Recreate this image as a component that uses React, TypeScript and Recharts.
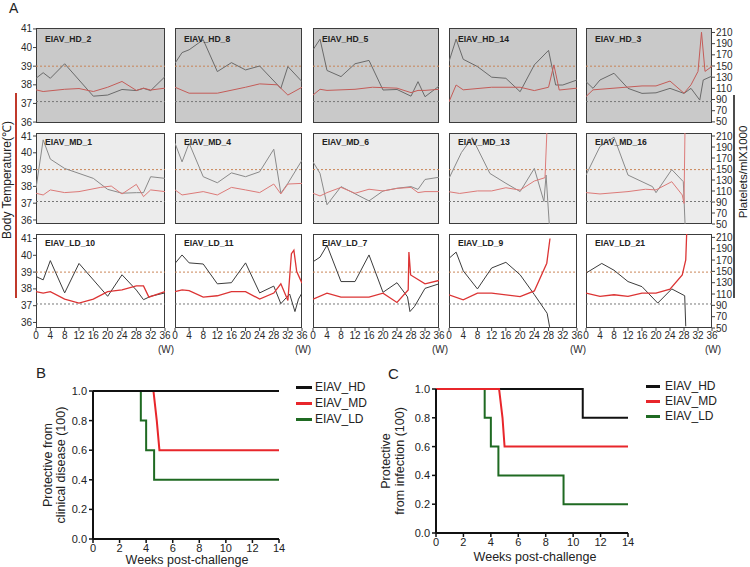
import React from 'react';
import { LineChart, Line, XAxis, YAxis, ReferenceLine, Legend } from 'recharts';

type Pt = [number, number];

// ---------- Panel A data: [week, temperature °C] and [week, platelets x1000/ml] ----------
const HD_2_TEMP: Pt[] = [[0,37.73],[2,37.64],[8,37.76],[12,37.8],[16,37.64],[20,37.87],[24,38.18],[28,37.7],[30,37.82],[32,37.72],[36,37.82]];
const HD_2_PLT: Pt[] = [[0,128],[2,138],[4,128],[8,154],[16,96],[20,98],[24,108],[28,106],[30,110],[32,106],[36,131]];
const HD_8_TEMP: Pt[] = [[0,37.87],[4,37.55],[12,37.55],[20,37.87],[24,38.05],[29,38.0],[32,37.45],[36,37.87]];
const HD_8_PLT: Pt[] = [[0,155],[2,174],[4,179],[8,197],[12,140],[16,156],[20,143],[24,150],[30,110],[32,149],[36,122]];
const HD_5_TEMP: Pt[] = [[0,37.45],[2,37.76],[4,37.7],[12,37.76],[17,37.87],[24,37.82],[28,37.58],[30,37.7],[32,37.7],[36,37.76]];
const HD_5_PLT: Pt[] = [[0,179],[2,198],[4,142],[8,131],[12,154],[16,160],[20,107],[24,108],[28,96],[30,122],[32,95],[36,114]];
const HD_14_TEMP: Pt[] = [[0,37.09],[2,37.99],[4,37.73],[12,37.87],[20,37.87],[24,37.69],[28,37.87],[29.5,39.07],[31,37.72],[36,37.82]];
const HD_14_PLT: Pt[] = [[0,158],[2,198],[4,162],[8,149],[12,130],[16,128],[20,104],[24,152],[28,178],[30,116],[32,116],[36,125]];
const HD_3_TEMP: Pt[] = [[0,37.37],[2,37.73],[8,37.82],[16,37.94],[20,37.94],[24,38.2],[28,37.55],[30,38.0],[32,38.72],[33,40.82],[34,38.72],[36,38.99]];
const HD_3_PLT: Pt[] = [[0,122],[2,110],[4,125],[8,137],[12,110],[16,101],[20,102],[24,110],[28,101],[30,110],[32.5,89],[33.5,125],[36,132]];

const MD_1_TEMP: Pt[] = [[0,37.59],[2,37.49],[4,37.79],[8,37.63],[12,37.69],[18,37.94],[21,38.02],[24,37.55],[28,38.12],[30,37.39],[32,37.79],[36,37.69]];
const MD_1_PLT: Pt[] = [[0,115],[2,203],[4,168],[8,151],[16,133],[20,113],[24,106],[28,107],[30,107],[32,136],[36,133]];
const MD_4_TEMP: Pt[] = [[0,37.79],[2,37.49],[8,37.69],[12,37.49],[16,37.94],[20,37.79],[24,37.63],[28,38.14],[30,37.55],[32,38.14],[36,38.18]];
const MD_4_PLT: Pt[] = [[0,197],[2,163],[4,197],[8,136],[12,125],[16,143],[20,136],[24,145],[28,186],[30,106],[32,124],[36,166]];
const MD_6_TEMP: Pt[] = [[0,37.59],[2,37.43],[4,37.63],[8,37.94],[12,37.59],[16,37.83],[20,37.73],[24,37.88],[28,37.94],[30,37.63],[32,37.69],[36,37.69]];
const MD_6_PLT: Pt[] = [[0,163],[2,142],[4,85],[8,118],[16,92],[20,110],[24,115],[28,118],[30,113],[32,131],[36,135]];
const MD_13_TEMP: Pt[] = [[0,37.68],[3,37.58],[8,37.73],[12,37.73],[16,37.92],[20,37.78],[24,38.32],[27,38.52],[27.6,41.6]];
const MD_13_PLT: Pt[] = [[0,133],[3.5,180],[6.5,207],[11.5,142],[16,124],[20,109],[24,151],[26.7,91],[27.3,139],[28.2,50]];
const MD_16_TEMP: Pt[] = [[0,37.63],[4,37.55],[12,37.69],[17,37.83],[20,37.79],[24.5,38.28],[27.5,37.49],[28,36.99],[28.3,41.6]];
const MD_16_PLT: Pt[] = [[0,139],[4,191],[8,208],[12,139],[19,118],[20,107],[24.5,149],[27.8,127],[28.3,50]];

const LD_10_TEMP: Pt[] = [[0,37.84],[2,37.75],[4,37.84],[8,37.39],[12,37.15],[16,37.39],[20,37.84],[24,37.94],[28,38.18],[30,38.18],[31.5,37.51],[36,37.84]];
const LD_10_PLT: Pt[] = [[0,141],[2,135],[4,169],[8,112],[12,164],[20,106],[24,144],[28,117],[30,100],[32,106],[36,112]];
const LD_11_TEMP: Pt[] = [[0,37.84],[2,37.94],[4,37.9],[8,37.51],[12,37.59],[16,37.84],[20,37.84],[24,37.39],[28,37.75],[30,38.3],[32,37.31],[33,40.1],[33.7,40.3],[34.5,39.03],[36,38.34]];
const LD_11_PLT: Pt[] = [[0,164],[2,179],[4,165],[8,163],[12,128],[16,130],[20,165],[24,112],[28,124],[30,93],[32.5,110],[34,79],[35,101],[36,112]];
const LD_7_TEMP: Pt[] = [[0,37.39],[4,37.75],[8,37.51],[16,37.51],[20,37.75],[24,37.19],[27.2,37.94],[27.4,40.2],[27.9,38.83],[32,38.3],[36,38.5]];
const LD_7_PLT: Pt[] = [[0,167],[2,175],[4,196],[8,132],[12,132],[16,179],[20,113],[24,130],[27,105],[27.7,79],[29,88],[32,120],[36,128]];
const LD_9_TEMP: Pt[] = [[0,37.64],[4,37.35],[8,37.75],[12,37.75],[20,37.54],[24,37.88],[27.5,39.53],[28.4,41.0]];
const LD_9_PLT: Pt[] = [[0,173],[2,184],[4,151],[8,119],[12,156],[16,166],[20,144],[24,109],[27.6,76],[28.3,52]];
const LD_21_TEMP: Pt[] = [[0,37.75],[4,37.55],[8,37.65],[12,37.55],[16,37.75],[20,37.75],[24,37.99],[27.5,38.83],[28.5,39.72],[28.8,41.5]];
const LD_21_PLT: Pt[] = [[0,147],[4.5,164],[8,152],[12,132],[16,123],[20.5,94],[24.5,119],[28.2,107],[28.5,53]];

const PANEL_NAMES: string[][] = [
  ['EIAV_HD_2', 'EIAV_HD_8', 'EIAV_HD_5', 'EIAV_HD_14', 'EIAV_HD_3'],
  ['EIAV_MD_1', 'EIAV_MD_4', 'EIAV_MD_6', 'EIAV_MD_13', 'EIAV_MD_16'],
  ['EIAV_LD_10', 'EIAV_LD_11', 'EIAV_LD_7', 'EIAV_LD_9', 'EIAV_LD_21'],
];
const PANEL_TEMP: Pt[][][] = [
  [HD_2_TEMP, HD_8_TEMP, HD_5_TEMP, HD_14_TEMP, HD_3_TEMP],
  [MD_1_TEMP, MD_4_TEMP, MD_6_TEMP, MD_13_TEMP, MD_16_TEMP],
  [LD_10_TEMP, LD_11_TEMP, LD_7_TEMP, LD_9_TEMP, LD_21_TEMP],
];
const PANEL_PLT: Pt[][][] = [
  [HD_2_PLT, HD_8_PLT, HD_5_PLT, HD_14_PLT, HD_3_PLT],
  [MD_1_PLT, MD_4_PLT, MD_6_PLT, MD_13_PLT, MD_16_PLT],
  [LD_10_PLT, LD_11_PLT, LD_7_PLT, LD_9_PLT, LD_21_PLT],
];

const WEEK_TICKS = [0, 4, 8, 12, 16, 20, 24, 28, 32, 36];
const TEMP_TICKS = [36, 37, 38, 39, 40, 41];
const PLT_TICKS = [50, 70, 90, 110, 130, 150, 170, 190, 210];
const FEVER_TEMP = 39;
const LOW_TEMP = 37.1;

// ---------- Panels B & C: Kaplan-Meier [week, fraction] ----------
const KM_NAMES = ['EIAV_HD', 'EIAV_MD', 'EIAV_LD'];
const KM_WEEK_TICKS = [0, 2, 4, 6, 8, 10, 12, 14];
const KM_Y_TICKS = [0, 0.2, 0.4, 0.6, 0.8, 1.0];
const B_HD: Pt[] = [[0,1],[14,1]];
const B_MD: Pt[] = [[0,1],[4.55,1],[4.8,0.8],[5.0,0.6],[14,0.6]];
const B_LD: Pt[] = [[0,1],[3.6,1],[3.6,0.8],[4.0,0.8],[4.0,0.6],[4.6,0.6],[4.6,0.4],[14,0.4]];
const C_HD: Pt[] = [[0,1],[10.7,1],[10.7,0.8],[14,0.8]];
const C_MD: Pt[] = [[0,1],[4.6,1],[4.85,0.8],[5.0,0.6],[14,0.6]];
const C_LD: Pt[] = [[0,1],[3.55,1],[3.55,0.8],[4.0,0.8],[4.0,0.6],[4.55,0.6],[4.55,0.4],[9.3,0.4],[9.3,0.2],[14,0.2]];

// ---------- layout / style ----------
const FONT = '"Liberation Sans", Arial, Helvetica, sans-serif';
const COL_LEFT = [36, 175, 313, 449, 586];
const COL_W = [129, 127, 126, 128, 126];
const ROW_TOP = [28, 133, 234];
const ROW_H = [95, 91, 94];
const TITLE_DY = [13.7, 12.2, 11.7];
const T_DOMAIN: [number, number][] = [[35.95, 41.05], [35.76, 41.18], [35.67, 41.27]];
const P_DOMAIN: [number, number][] = [[48, 218], [50, 215.5], [50, 216]];
const ROW_BG = ['#c9c9c9', '#ececec', '#ffffff'];
const ROW_PLT_COLOR = ['#6a6a6a', '#8a8a8a', '#3c3c3c'];
const ROW_TEMP_COLOR = ['#c45c58', '#dc7a78', '#dc3434'];
const KM_COLORS = ['#111111', '#e8262b', '#1f6a22'];

const toObj = (pts: Pt[]) => pts.map(([w, v]) => ({ w, v }));

function Panel({ row, col }: { row: number; col: number }) {
  const left = COL_LEFT[col];
  const w = COL_W[col];
  const top = ROW_TOP[row];
  const h = ROW_H[row];
  const showT = col === 0;
  const showP = col === 4;
  const showX = row === 2;
  const lw = showT ? 36 : 0;
  const rw = showP ? 36 : 0;
  const bh = showX ? 14 : 0;
  const mt = 7, mb = 7, ml = 8, mr = 8;
  const tickStyle = { fontSize: 10, fill: '#2a2a2a', fontFamily: FONT };
  return (
    <>
      <div
        style={{
          position: 'absolute', left, top, width: w, height: h,
          background: ROW_BG[row], border: '1px solid #3c3c3c', boxSizing: 'border-box',
        }}
      />
      <div style={{ position: 'absolute', left: left - lw - ml, top: top - mt }}>
        <LineChart width={ml + lw + w + rw + mr} height={mt + h + bh + mb} margin={{ top: mt, right: mr, bottom: mb, left: ml }}>
          <XAxis
            type="number" dataKey="w" domain={[0, 36]} ticks={WEEK_TICKS} interval={0}
            hide={!showX} height={14} tickSize={3} tickMargin={1} axisLine={false}
            tickLine={{ stroke: '#444' }} tick={tickStyle} allowDataOverflow
          />
          <YAxis
            yAxisId="t" type="number" domain={T_DOMAIN[row]} ticks={TEMP_TICKS} interval={0}
            hide={!showT} width={36} tickSize={3} tickMargin={1} axisLine={false}
            tickLine={{ stroke: '#444' }} tick={tickStyle} allowDataOverflow
          />
          <YAxis
            yAxisId="p" orientation="right" type="number" domain={P_DOMAIN[row]} ticks={PLT_TICKS} interval={0}
            hide={!showP} width={36} tickSize={3} tickMargin={1} axisLine={false}
            tickLine={{ stroke: '#444' }} tick={tickStyle} allowDataOverflow
          />
          <ReferenceLine yAxisId="t" y={FEVER_TEMP} stroke="#c98558" strokeDasharray="2 2" strokeWidth={1} />
          <ReferenceLine yAxisId="t" y={LOW_TEMP} stroke="#777777" strokeDasharray="2 2" strokeWidth={1} />
          <Line
            yAxisId="p" data={toObj(PANEL_PLT[row][col])} dataKey="v" type="linear"
            stroke={ROW_PLT_COLOR[row]} strokeWidth={1} dot={false} isAnimationActive={false}
          />
          <Line
            yAxisId="t" data={toObj(PANEL_TEMP[row][col])} dataKey="v" type="linear"
            stroke={ROW_TEMP_COLOR[row]} strokeWidth={row === 2 ? 1.3 : 1} dot={false} isAnimationActive={false}
          />
        </LineChart>
      </div>
    </>
  );
}

type KMProps = {
  left: number; top: number; plotW: number; plotH: number;
  series: Pt[][]; order: number[];
  legendLeft: number; legendTop: number; legendRowH: number; legendLineW: number; legendGap: number;
};

function KMChart(p: KMProps) {
  const yW = 40;
  const mTop = 10;
  const mRight = 8;
  const xH = 20;
  const renderLegend = (props: any) => {
    const items = [...(props.payload || [])].sort(
      (a: any, b: any) => KM_NAMES.indexOf(a.value) - KM_NAMES.indexOf(b.value)
    );
    return (
      <div style={{ fontFamily: FONT, fontSize: 12, color: '#222' }}>
        {items.map((it: any) => (
          <div key={it.value} style={{ height: p.legendRowH, display: 'flex', alignItems: 'center', whiteSpace: 'nowrap' }}>
            <span style={{ display: 'inline-block', width: p.legendLineW, height: 3, background: it.color, marginRight: p.legendGap }} />
            <span>{it.value}</span>
          </div>
        ))}
      </div>
    );
  };
  return (
    <div style={{ position: 'absolute', left: p.left - yW, top: p.top - mTop }}>
      <LineChart width={yW + p.plotW + mRight} height={mTop + p.plotH + xH} margin={{ top: mTop, right: mRight, bottom: 0, left: 0 }}>
        <XAxis
          type="number" dataKey="w" domain={[0, 14]} ticks={KM_WEEK_TICKS} interval={0} height={xH}
          axisLine={{ stroke: '#111', strokeWidth: 2 }} tickLine={{ stroke: '#111', strokeWidth: 1.5 }}
          tickSize={4} tickMargin={1} tick={{ fontSize: 11, fill: '#222', fontFamily: FONT }}
        />
        <YAxis
          type="number" domain={[0, 1]} ticks={KM_Y_TICKS} interval={0} width={yW}
          tickFormatter={(v: number) => v.toFixed(1)}
          axisLine={{ stroke: '#111', strokeWidth: 2 }} tickLine={{ stroke: '#111', strokeWidth: 1.5 }}
          tickSize={4} tickMargin={2} tick={{ fontSize: 11, fill: '#222', fontFamily: FONT }}
        />
        <Legend
          layout="vertical" align="center" verticalAlign="middle"
          wrapperStyle={{ left: p.legendLeft - (p.left - yW), top: p.legendTop - (p.top - mTop), width: 90 }}
          content={renderLegend}
        />
        {p.order.map((i) => (
          <Line
            key={KM_NAMES[i]} name={KM_NAMES[i]} data={toObj(p.series[i])} dataKey="v" type="linear"
            stroke={KM_COLORS[i]} strokeWidth={2} dot={false} isAnimationActive={false} legendType="plainline"
          />
        ))}
      </LineChart>
    </div>
  );
}

export default function App() {
  const rows = [0, 1, 2];
  const cols = [0, 1, 2, 3, 4];
  return (
    <div style={{ position: 'absolute', left: 0, top: 0, width: 750, height: 567, background: '#fff', overflow: 'hidden', fontFamily: FONT }}>
      {rows.map((r) => cols.map((c) => <Panel key={`${r}-${c}`} row={r} col={c} />))}

      <KMChart
        left={93} top={391} plotW={186} plotH={148} series={[B_HD, B_MD, B_LD]} order={[2, 1, 0]}
        legendLeft={296} legendTop={379} legendRowH={16} legendLineW={16} legendGap={3}
      />
      <KMChart
        left={436} top={389} plotW={192} plotH={144} series={[C_HD, C_MD, C_LD]} order={[0, 2, 1]}
        legendLeft={646} legendTop={378.5} legendRowH={15} legendLineW={14} legendGap={5}
      />

      <svg width={750} height={567} style={{ position: 'absolute', left: 0, top: 0, pointerEvents: 'none' }}>
        <text x={9} y={13} fontSize={14} fill="#222" fontFamily={FONT}>A</text>
        <text x={36} y={378} fontSize={15} fill="#222" fontFamily={FONT}>B</text>
        <text x={388} y={379} fontSize={15} fill="#222" fontFamily={FONT}>C</text>

        {rows.map((r) => cols.map((c) => (
          <text key={`t-${r}-${c}`} x={COL_LEFT[c] + 9} y={ROW_TOP[r] + TITLE_DY[r]} fontSize={8.6} fontWeight="bold" fill="#222" fontFamily={FONT}>
            {PANEL_NAMES[r][c]}
          </text>
        )))}
        {cols.map((c) => (
          <text key={`w-${c}`} x={COL_LEFT[c] + COL_W[c] + 1} y={353} fontSize={10} textAnchor="middle" fill="#2a2a2a" fontFamily={FONT}>(W)</text>
        ))}

        <line x1={16} y1={93} x2={16} y2={298} stroke="#c0392b" strokeWidth={2} />
        <text x={11} y={180} fontSize={12} textAnchor="middle" fill="#222" fontFamily={FONT} transform="rotate(-90 11 180)">Body Temperature(℃)</text>
        <line x1={734} y1={95} x2={734} y2={298} stroke="#111" strokeWidth={1.5} />
        <text x={747} y={172} fontSize={11.5} textAnchor="middle" fill="#222" fontFamily={FONT} transform="rotate(-90 747 172)">Platelets/mlX1000</text>

        <text x={52} y={465} fontSize={12.5} textAnchor="middle" fill="#222" fontFamily={FONT} transform="rotate(-90 52 465)">Protective from</text>
        <text x={65} y={465} fontSize={12.5} textAnchor="middle" fill="#222" fontFamily={FONT} transform="rotate(-90 65 465)">clinical disease (100)</text>
        <text x={187} y={564} fontSize={12.5} textAnchor="middle" fill="#222" fontFamily={FONT}>Weeks post-challenge</text>

        <text x={390} y={461} fontSize={12.5} textAnchor="middle" fill="#222" fontFamily={FONT} transform="rotate(-90 390 461)">Protective</text>
        <text x={404} y={461} fontSize={12.5} textAnchor="middle" fill="#222" fontFamily={FONT} transform="rotate(-90 404 461)">from infection (100)</text>
        <text x={535} y={561} fontSize={12.5} textAnchor="middle" fill="#222" fontFamily={FONT}>Weeks post-challenge</text>
      </svg>
    </div>
  );
}
